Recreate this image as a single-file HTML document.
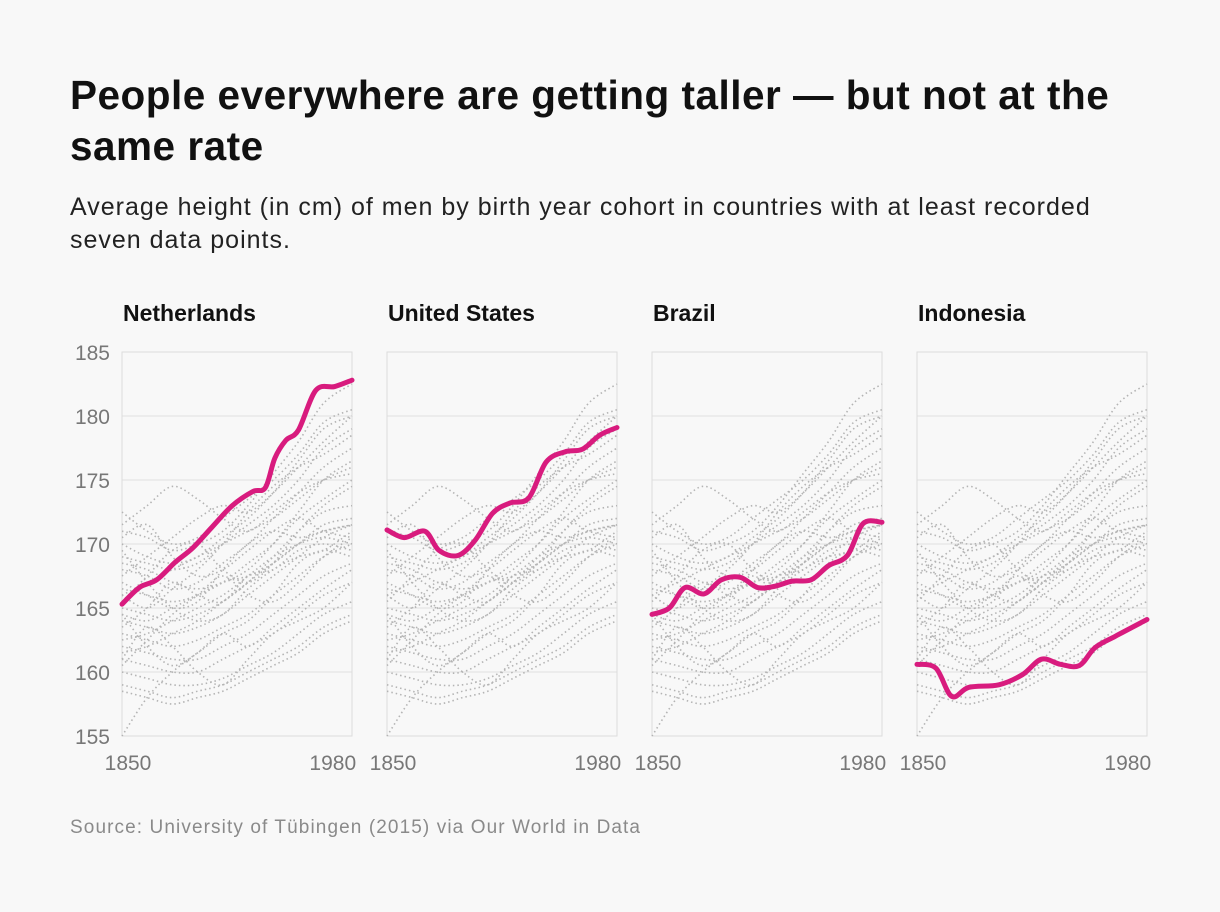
<!DOCTYPE html>
<html><head><meta charset="utf-8">
<style>
body{margin:0;background:#f8f8f8;font-family:"Liberation Sans",Arial,sans-serif;}
#wrap{position:relative;width:1220px;height:912px;overflow:hidden;}
h1{position:absolute;left:70px;top:70px;margin:0;font-size:40.5px;line-height:51px;font-weight:bold;color:#111;width:1080px;letter-spacing:0.5px}
#sub{position:absolute;left:70px;top:191px;font-size:25px;line-height:33px;color:#222;width:1080px;letter-spacing:1px}
#src{position:absolute;left:70px;top:817px;font-size:19px;color:#8a8a8a;letter-spacing:1.1px}
svg{position:absolute;left:0;top:0}
</style></head><body>
<div id="wrap">
<h1>People everywhere are getting taller — but not at the same rate</h1>
<div id="sub">Average height (in cm) of men by birth year cohort in countries with at least recorded seven data points.</div>
<svg id="chart" width="1220" height="912"></svg>
<div id="src">Source: University of Tübingen (2015) via Our World in Data</div>
</div>
<script>
const panels = ["Netherlands","United States","Brazil","Indonesia"];
const yTicks = [155,160,165,170,175,180,185];
const xTicks = [1850,1980];
const nlYears=[1850,1861,1872,1884,1895,1907,1920,1933,1941,1947,1954,1962,1973,1985,1996];
const nlVals=[165.3,166.6,167.2,168.6,169.7,171.3,173,174.1,174.4,176.7,178.1,178.9,182,182.3,182.8];
const usYears=[1850,1861,1874,1883,1895,1906,1917,1928,1940,1951,1963,1974,1985,1996];
const usVals=[171.1,170.5,171,169.5,169.1,170.3,172.4,173.2,173.6,176.4,177.2,177.4,178.5,179.1];
const brYears=[1850,1861,1871,1883,1894,1906,1917,1928,1939,1951,1962,1974,1984,1996];
const brVals=[164.5,165,166.6,166.1,167.2,167.4,166.6,166.7,167.1,167.2,168.3,169.1,171.6,171.7];
const idYears=[1850,1862,1872,1883,1902,1917,1929,1941,1953,1963,1976,1996];
const idVals=[160.6,160.3,158.1,158.8,159,159.8,161,160.6,160.5,161.9,162.8,164.1];
const bgYears=[1850,1866,1882,1898,1914,1930,1946,1962,1978,1996];
const bgSeries=[
[172.5,171,170,170.5,172,173.5,175,177,179.5,180.5],
[171,170.5,169.5,170,171,173,175.5,178,181,182.5],
[169,168.5,168,168.5,170,171.5,173,175,177.5,179],
[168,167.5,166.5,167,168.5,170,172,174,176,177.5],
[166.5,166,165.5,166,167,168.5,170,172,173.5,175],
[165,164.5,164,164.5,165.5,167,169,171,172.5,173],
[164,163.5,163,163.5,164.5,166,167.5,169,170.5,171.5],
[163,162.5,162,162.5,163.5,164.5,166,167.5,169,170],
[162,161.5,161,161,162,163,164.5,166,167.5,168.5],
[161,160.5,160,160,161,162,163,164.5,166,167],
[160,159.5,159,159,159.5,160.5,161.5,163,164.5,165.5],
[158.5,158,157.5,158,158.5,159.5,160.5,161.5,163,164],
[167,166,165,165.5,168,170,171,170.5,171,171.5],
[170,169,168.5,169,170.5,172,174,176.5,179,180],
[164.5,164,165,166,167,167.5,168.5,170,171.5,172],
[162.5,163,164,165,166,167.5,169,170,170.5,170],
[166,167,168,169,170,171,172,173.5,175,176],
[159,158.5,158,158.5,159,160,161,162,163.5,164.5],
[168.5,168,167,166.5,167,168,170,172.5,175,176.5],
[161.5,162,163,164,165.5,167,168.5,170,171,171.5],
[170.5,171.5,169,167.5,168,169.5,171,172,171,170.5],
[167.5,169,170.5,172,173,172.5,174,176,178,180],
[163.5,165,167,166,165.5,167.5,168,169.5,170,169.5],
[165.5,167.5,169.5,170,168,167,168.5,171,173,174.5],
[160.5,162.5,164.5,166,167.5,166,165.5,167,169,170.5],
[155,158,160,161.5,163,162,163.5,165,166.5,168],
[169.5,167,165,164,164.5,166.5,168,169,169.5,171],
[164.5,162,160.5,161.5,163,164,166,168.5,169.5,169],
[171.5,173,174.5,173.5,172,171,172.5,174,175,175.5],
[166,165,166.5,168,170,172.5,174.5,176,177,178.5],
[161,163.5,162,160,159,161,163,164,165,167]
];
const series=[[nlYears,nlVals],[usYears,usVals],[brYears,brVals],[idYears,idVals]];
const NS="http://www.w3.org/2000/svg";
const svg=document.getElementById('chart');
const W=230, step=265, x0=122, yTop=352, yBot=736;
const y=v=>yBot-(v-155)/30*(yBot-yTop);
function mk(t,a,p){const e=document.createElementNS(NS,t);for(const k in a)e.setAttribute(k,a[k]);(p||svg).appendChild(e);return e;}
function smooth(pts){let d="M"+pts[0][0]+","+pts[0][1];for(let i=0;i<pts.length-1;i++){const p0=pts[i-1]||pts[i],p1=pts[i],p2=pts[i+1],p3=pts[i+2]||p2;const c1=[p1[0]+(p2[0]-p0[0])/6,p1[1]+(p2[1]-p0[1])/6],c2=[p2[0]-(p3[0]-p1[0])/6,p2[1]-(p3[1]-p1[1])/6];d+=" C"+c1+" "+c2+" "+p2;}return d;}
panels.forEach((name,i)=>{
  const L=x0+i*step; const x=yr=>L+(yr-1850)/146*W;
  const g=mk('g',{});
  
  
  const t=mk('text',{x:L+1,y:321,'font-size':23,'font-weight':'bold',fill:'#111'},g);t.textContent=name;
  
  yTicks.forEach(v=>{mk('line',{x1:L,x2:L+W,y1:y(v),y2:y(v),stroke:'#e0e0e0','stroke-width':1},g);
    if(i===0){const tl=mk('text',{x:110,y:y(v)+8,'font-size':21,fill:'#777','text-anchor':'end'},g);tl.textContent=v;
    }});
  mk('rect',{x:L,y:yTop,width:W,height:yBot-yTop,fill:'none',stroke:'#dcdcdc'},g);
  xTicks.forEach(v=>{const tl=mk('text',{x:x(v)+6,y:770,'font-size':21,fill:'#777','text-anchor':'middle'},g);tl.textContent=v;
    });
  bgSeries.forEach(s=>{const p=mk('path',{d:smooth(s.map((v,j)=>[x(bgYears[j]),y(v)])),fill:'none',stroke:'#b4b4b4','stroke-width':1.6,'stroke-dasharray':'1.5 3'},g);
    });
  const [ys,vs]=series[i];
  const p=mk('path',{d:smooth(ys.map((yr,j)=>[x(yr),y(vs[j])])),fill:'none',stroke:'#d81b7e','stroke-width':5,'stroke-linecap':'round','stroke-linejoin':'round'},g);
  
});
</script>
</body></html>
